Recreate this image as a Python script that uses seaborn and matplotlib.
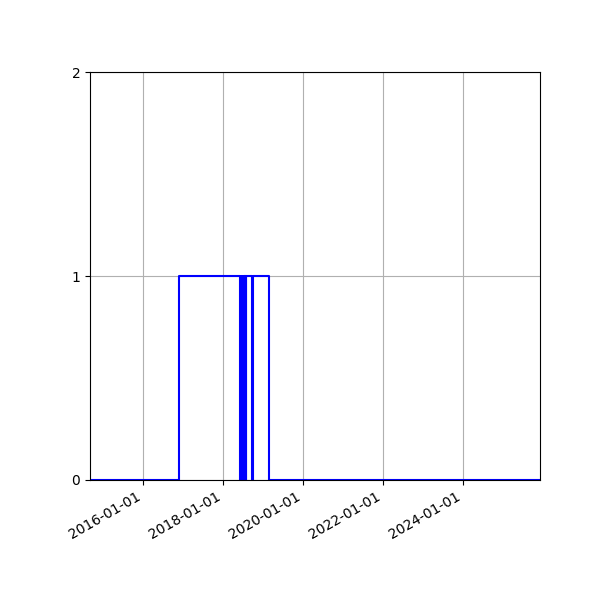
import matplotlib
matplotlib.use("Agg")
import matplotlib.pyplot as plt
import matplotlib.dates as mdates
import pandas as pd
import seaborn as sns

# change points of the on/off series (value holds until next date)
change_dates = ["2014-09-03", "2016-11-20",
                "2018-06-04", "2018-06-09", "2018-06-13", "2018-06-18",
                "2018-06-22", "2018-06-27", "2018-07-01", "2018-07-06",
                "2018-07-10", "2018-07-15", "2018-07-19", "2018-07-24",
                "2018-07-28", "2018-08-01",
                "2018-09-25", "2018-09-27",
                "2019-02-22", "2025-12-04"]
state = [0, 1,
         0, 1, 0, 1,
         0, 1, 0, 1,
         0, 1, 0, 1,
         0, 1,
         0, 1,
         0, 0]

df = pd.DataFrame({"date": pd.to_datetime(change_dates), "value": state})

fig, ax = plt.subplots(figsize=(6, 6), dpi=100)
fig.subplots_adjust(left=0.15, right=0.9, top=0.88, bottom=0.2)
sns.lineplot(data=df, x="date", y="value", drawstyle="steps-post",
             color="blue", linewidth=1.5, ax=ax)

ax.set_xlim(df["date"].min(), df["date"].max())
ax.set_ylim(0, 2)
ax.set_yticks([0, 1, 2])
ax.xaxis.set_major_locator(mdates.YearLocator(2))
ax.xaxis.set_major_formatter(mdates.DateFormatter("%Y-%m-%d"))
ax.set_xlabel("")
ax.set_ylabel("")
ax.grid(True)
for lbl in ax.get_xticklabels():
    lbl.set_rotation(30)
    lbl.set_ha("right")

fig.savefig("out.png")
